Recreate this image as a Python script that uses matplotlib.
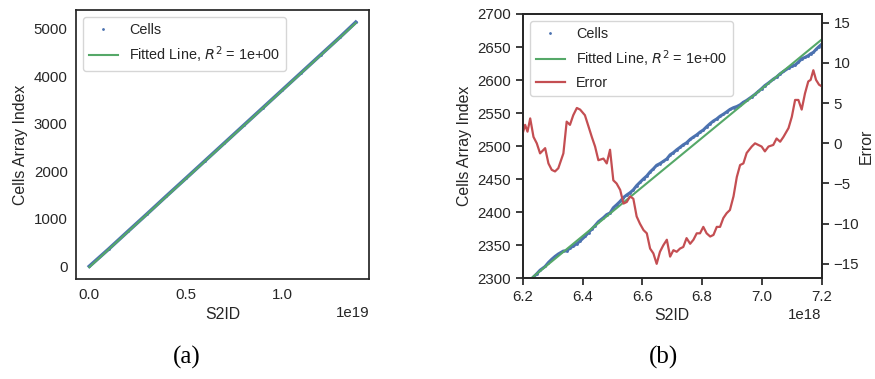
import matplotlib
matplotlib.use("Agg")
import matplotlib.pyplot as plt
import numpy as np

# whole range (panel a), S2ID in units of 1e19
s2id_all = [0.0, 0.1, 0.2, 0.3, 0.4, 0.5, 0.6, 0.7, 0.8, 0.9, 1.0, 1.1, 1.2, 1.3, 1.382]
cells_all = [0, 362, 735, 1105, 1480, 1850, 2222, 2594, 2966, 3338, 3710, 4082, 4454, 4826, 5141]

# fitted line: index = slope * S2ID + intercept (S2ID in units of 1e18)
fit_slope = 372.0
fit_intercept = -17.0
r2_label = "1e+00"

# zoomed range (panel b), S2ID in units of 1e18, error = fitted - actual
s2id_zoom = [6.200, 6.208, 6.216, 6.225, 6.236, 6.247, 6.258, 6.275, 6.286, 6.297,
             6.308, 6.319, 6.336, 6.347, 6.358, 6.369, 6.381, 6.392, 6.408, 6.420,
             6.431, 6.442, 6.453, 6.470, 6.481, 6.492, 6.503, 6.514, 6.526, 6.537,
             6.548, 6.559, 6.570, 6.581, 6.592, 6.604, 6.615, 6.626, 6.637, 6.648,
             6.659, 6.670, 6.682, 6.693, 6.704, 6.715, 6.726, 6.737, 6.748, 6.760,
             6.771, 6.782, 6.793, 6.804, 6.815, 6.827, 6.838, 6.849, 6.860, 6.871,
             6.882, 6.893, 6.905, 6.916, 6.927, 6.938, 6.949, 6.966, 6.977, 6.988,
             6.999, 7.010, 7.022, 7.038, 7.049, 7.061, 7.072, 7.089, 7.100, 7.111,
             7.122, 7.133, 7.144, 7.155, 7.163, 7.172, 7.181, 7.191, 7.200]
error_zoom = [1.25, 2.3, 1.45, 3.1, 0.8, 0.0, -1.25, -0.6, -2.5, -3.3,
              -3.5, -3.1, -1.25, 2.7, 2.3, 3.5, 4.4, 4.2, 3.5, 2.1,
              0.8, -0.4, -2.1, -1.9, -2.5, -0.8, -4.6, -5.0, -5.8, -7.5,
              -7.3, -6.6, -6.9, -9.1, -10.0, -10.8, -11.2, -13.1, -13.7, -15.0,
              -13.5, -12.7, -12.0, -14.1, -13.3, -13.5, -13.1, -12.9, -11.8, -12.5,
              -12.0, -11.2, -11.2, -10.4, -11.2, -11.6, -11.4, -10.4, -10.4, -9.3,
              -8.7, -8.3, -6.6, -4.2, -2.7, -2.5, -1.2, -0.4, 0.0, -0.2,
              -0.4, -1.0, -0.4, -0.2, 0.6, 0.2, 0.8, 1.9, 3.3, 5.4,
              5.4, 4.2, 6.2, 7.7, 7.9, 9.1, 7.9, 7.3, 7.1]

BLUE = "#4C72B0"
GREEN = "#55A868"
RED = "#C44E52"
DARK = "#262626"

plt.rcParams["font.family"] = ["Liberation Sans", "DejaVu Sans"]
plt.rcParams["text.color"] = DARK
plt.rcParams["axes.labelcolor"] = DARK
plt.rcParams["xtick.color"] = DARK
plt.rcParams["ytick.color"] = DARK
plt.rcParams["axes.edgecolor"] = DARK
plt.rcParams["axes.linewidth"] = 1.25
plt.rcParams["legend.edgecolor"] = "0.8"

TICK = 10.8
LABEL = 11.4
LEG = 10.4

fig = plt.figure(figsize=(8.75, 3.79), dpi=100)
ax1 = fig.add_axes([0.0869, 0.263, 0.3349, 0.7106])
ax2 = fig.add_axes([0.5974, 0.2657, 0.3417, 0.6974])

# ---- panel (a)
xa = np.array(s2id_all) * 1e19
ya = np.array(cells_all)
fit_a = fit_slope * (xa / 1e18) + fit_intercept
ax1.plot(xa, ya, color=BLUE, lw=2.6)
ax1.plot(xa, ya, ".", color=BLUE, ms=2, label="Cells")
ax1.plot(xa, fit_a, color=GREEN, lw=1.5, label="Fitted Line, $R^2$ = " + r2_label)
ax1.set_xticks([0, 0.5e19, 1.0e19])
ax1.set_yticks([0, 1000, 2000, 3000, 4000, 5000])
ax1.tick_params(length=0, labelsize=TICK, pad=6)
ax1.xaxis.get_offset_text().set_fontsize(TICK)
ax1.set_xlabel("S2ID", fontsize=LABEL, labelpad=4)
ax1.set_ylabel("Cells Array Index", fontsize=LABEL)
ax1.legend(loc="upper left", fontsize=LEG, fancybox=True)

# ---- panel (b)
xb = np.array(s2id_zoom)
err = np.array(error_zoom)
fit_b = fit_slope * xb + fit_intercept
cells_b = fit_b - err
xb = xb * 1e18
ax2.plot(xb, cells_b, color=BLUE, lw=2.2)
l1, = ax2.plot(xb, cells_b, ".", color=BLUE, ms=2, label="Cells")
l2, = ax2.plot(xb, fit_b, color=GREEN, lw=1.5, label="Fitted Line, $R^2$ = " + r2_label)
ax2.set_xlim(6.2e18, 7.2e18)
ax2.set_ylim(2300, 2700)
ax2.set_yticks(np.arange(2300, 2701, 50))
ax2.tick_params(direction="out", length=5, width=1.25, labelsize=TICK)
ax2.xaxis.get_offset_text().set_fontsize(TICK)
ax2.set_xlabel("S2ID", fontsize=LABEL, labelpad=3)
ax2.set_ylabel("Cells Array Index", fontsize=LABEL)

ax3 = ax2.twinx()
l3, = ax3.plot(xb, err, color=RED, lw=1.6, label="Error")
ax3.set_ylim(-16.8, 16.1)
ax3.set_yticks([-15, -10, -5, 0, 5, 10, 15])
ax3.tick_params(direction="out", length=5, width=1.25, labelsize=TICK)
ax3.set_ylabel("Error", fontsize=LABEL, labelpad=0)
ax3.legend(handles=[l1, l2, l3], loc="upper left", fontsize=LEG, fancybox=True)

fig.text(187 / 875, 1 - 357 / 379, "(a)", family="Liberation Serif", fontsize=18,
         ha="center", va="center", color="black")
fig.text(663 / 875, 1 - 357 / 379, "(b)", family="Liberation Serif", fontsize=18,
         ha="center", va="center", color="black")

fig.savefig("out.png", dpi=100)
